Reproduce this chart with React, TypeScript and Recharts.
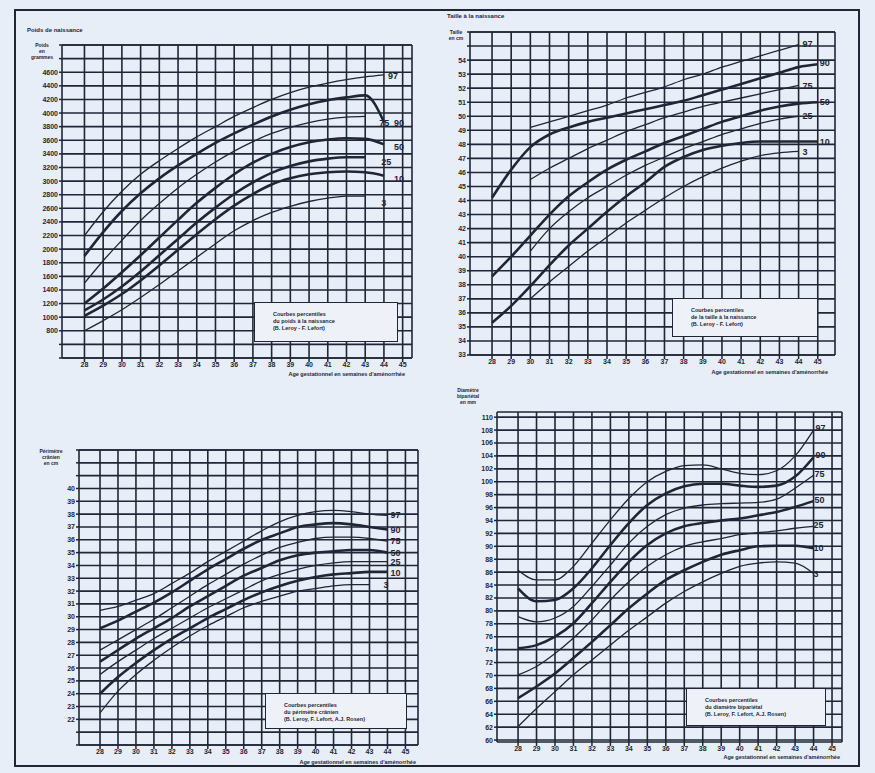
import { CartesianGrid, Line, LineChart, XAxis, YAxis } from "recharts";

// semaines d'aménorrhée
const weeks = [28, 29, 30, 31, 32, 33, 34, 35, 36, 37, 38, 39, 40, 41, 42, 43, 44, 45];

// Poids de naissance (g)
const poids97 = [2200, 2550, 2850, 3100, 3300, 3480, 3650, 3800, 3950, 4080, 4200, 4300, 4380, 4440, 4490, 4530, 4560, null];
const poids90 = [1900, 2250, 2560, 2820, 3040, 3230, 3400, 3560, 3700, 3830, 3950, 4050, 4130, 4190, 4230, 4260, 3870, null];
const poids75 = [1500, 1830, 2130, 2420, 2670, 2900, 3100, 3280, 3440, 3580, 3700, 3790, 3860, 3910, 3940, 3950, null, null];
const poids50 = [1200, 1420, 1660, 1910, 2170, 2430, 2680, 2900, 3100, 3270, 3400, 3500, 3570, 3610, 3630, 3620, 3540, null];
const poids25 = [1100, 1260, 1450, 1670, 1910, 2150, 2390, 2610, 2810, 2980, 3120, 3220, 3290, 3330, 3350, 3350, null, null];
const poids10 = [1020, 1170, 1340, 1540, 1760, 1990, 2220, 2440, 2640, 2810, 2950, 3040, 3100, 3130, 3140, 3130, 3080, null];
const poids3 = [800, 950, 1110, 1290, 1480, 1680, 1880, 2080, 2270, 2420, 2540, 2630, 2700, 2750, 2780, 2780, null, null];
const poidsTicks = [800, 1000, 1200, 1400, 1600, 1800, 2000, 2200, 2400, 2600, 2800, 3000, 3200, 3400, 3600, 3800, 4000, 4200, 4400, 4600];

// Taille à la naissance (cm)
const taille97 = [null, null, 49.2, 49.6, 50.0, 50.4, 50.8, 51.3, 51.7, 52.1, 52.6, 53.0, 53.5, 53.9, 54.3, 54.7, 55.1, null];
const taille90 = [44.2, 46.2, 47.8, 48.7, 49.2, 49.6, 49.9, 50.2, 50.5, 50.8, 51.1, 51.5, 51.9, 52.3, 52.7, 53.1, 53.5, 53.7];
const taille75 = [null, null, 45.5, 46.3, 47.0, 47.7, 48.3, 48.9, 49.4, 49.9, 50.3, 50.7, 51.0, 51.3, 51.6, 51.9, 52.2, null];
const taille50 = [38.6, 40.0, 41.5, 43.0, 44.3, 45.3, 46.2, 46.9, 47.5, 48.1, 48.6, 49.1, 49.6, 50.0, 50.4, 50.7, 50.9, 51.0];
const taille25 = [null, null, 40.4, 42.0, 43.2, 44.2, 45.0, 45.8, 46.5, 47.1, 47.7, 48.2, 48.7, 49.1, 49.5, 49.8, 50.0, null];
const taille10 = [35.3, 36.5, 37.9, 39.4, 40.8, 42.0, 43.2, 44.3, 45.3, 46.4, 47.1, 47.6, 47.9, 48.1, 48.2, 48.2, 48.2, 48.2];
const taille3 = [null, null, 37.0, 38.2, 39.3, 40.4, 41.4, 42.4, 43.3, 44.2, 45.0, 45.7, 46.3, 46.8, 47.2, 47.4, 47.5, null];
const tailleTicks = [33, 34, 35, 36, 37, 38, 39, 40, 41, 42, 43, 44, 45, 46, 47, 48, 49, 50, 51, 52, 53, 54];

// Périmètre crânien (cm)
const pc97 = [30.5, 30.8, 31.3, 31.8, 32.6, 33.4, 34.3, 35.1, 35.9, 36.7, 37.4, 37.9, 38.2, 38.3, 38.2, 38.0, 37.9, null];
const pc90 = [29.1, 29.7, 30.4, 31.1, 31.9, 32.8, 33.7, 34.5, 35.3, 36.0, 36.5, 37.0, 37.2, 37.3, 37.2, 37.0, 36.8, null];
const pc75 = [27.4, 28.2, 29.0, 29.8, 30.7, 31.6, 32.5, 33.3, 34.1, 34.8, 35.4, 35.8, 36.1, 36.2, 36.2, 36.1, 35.9, null];
const pc50 = [26.5, 27.4, 28.3, 29.1, 29.9, 30.8, 31.6, 32.4, 33.2, 33.8, 34.4, 34.8, 35.0, 35.1, 35.2, 35.2, 35.0, null];
const pc25 = [25.5, 26.5, 27.4, 28.3, 29.1, 29.9, 30.7, 31.4, 32.1, 32.8, 33.3, 33.7, 34.0, 34.2, 34.3, 34.3, 34.3, null];
const pc10 = [24.0, 25.3, 26.4, 27.4, 28.3, 29.1, 29.9, 30.6, 31.3, 31.9, 32.4, 32.8, 33.1, 33.3, 33.4, 33.5, 33.5, null];
const pc3 = [22.5, 24.2, 25.5, 26.6, 27.6, 28.5, 29.3, 30.0, 30.7, 31.2, 31.6, 32.0, 32.2, 32.4, 32.5, 32.5, null, null];
const pcTicks = [22, 23, 24, 25, 26, 27, 28, 29, 30, 31, 32, 33, 34, 35, 36, 37, 38, 39, 40];

// Diamètre bipariétal (mm)
const bip97 = [86.3, 84.8, 84.8, 86.9, 90.5, 94.1, 97.4, 100.0, 101.6, 102.5, 102.6, 102.0, 101.3, 101.1, 101.7, 104.0, 108.0, null];
const bip90 = [83.5, 81.5, 81.7, 83.5, 86.6, 90.2, 93.6, 96.4, 98.2, 99.3, 99.7, 99.7, 99.4, 99.2, 99.4, 100.8, 103.8, null];
const bip75 = [79.1, 78.3, 78.9, 80.7, 83.8, 87.1, 90.5, 93.1, 94.9, 95.9, 96.4, 96.6, 96.7, 96.8, 97.3, 99.0, 101.0, null];
const bip50 = [74.2, 74.7, 76.0, 78.1, 81.2, 84.5, 87.6, 90.2, 92.0, 93.1, 93.6, 94.0, 94.3, 94.8, 95.3, 96.1, 97.0, null];
const bip25 = [70.1, 71.4, 73.4, 75.8, 78.6, 81.7, 84.5, 86.9, 88.7, 90.0, 90.7, 91.2, 91.8, 92.1, 92.4, 92.8, 93.1, null];
const bip10 = [66.5, 68.3, 70.3, 72.7, 75.2, 77.8, 80.4, 82.7, 84.8, 86.3, 87.6, 88.7, 89.4, 90.0, 90.1, 90.1, 89.7, null];
const bip3 = [62.1, 64.9, 67.5, 70.1, 72.4, 74.7, 77.0, 79.1, 81.2, 83.0, 84.5, 85.8, 86.9, 87.4, 87.6, 87.4, 85.8, null];
const bipTicks = [60, 62, 64, 66, 68, 70, 72, 74, 76, 78, 80, 82, 84, 86, 88, 90, 92, 94, 96, 98, 100, 102, 104, 106, 108, 110];

const INK = "#1f2636";
const BG = "#e8eef7";
const FONT = "'Liberation Sans', Arial, sans-serif";
const X_TITLE = "Age gestationnel en semaines d'aménorrhée";

type Series = (number | null)[];

interface Curve {
  name: string;
  values: Series;
  thick: boolean;
  dx: number;
  dy: number;
}

const range = (from: number, to: number, step: number) => {
  const out: number[] = [];
  for (let v = from; v <= to + 1e-6; v += step) out.push(Math.round(v * 100) / 100);
  return out;
};

const lastIndex = (values: Series) => {
  let last = -1;
  values.forEach((v, i) => {
    if (v !== null) last = i;
  });
  return last;
};

interface PanelProps {
  left: number;
  top: number;
  width: number;
  height: number;
  margin: { top: number; right: number; bottom: number; left: number };
  yWidth: number;
  xHeight: number;
  xDomain: [number, number];
  yDomain: [number, number];
  yGrid: number[];
  yLabels: number[];
  curves: Curve[];
}

const Panel = (p: PanelProps) => {
  const rows = weeks.map((week, i) => {
    const row: Record<string, number | null> = { week };
    p.curves.forEach((c) => {
      row["p" + c.name] = c.values[i];
    });
    return row;
  });
  const labelled = new Set(p.yLabels);
  const xGrid = [p.xDomain[0], ...weeks, p.xDomain[1]];
  const tickStyle = { fontSize: 7, fontWeight: 700, fill: INK, fontFamily: FONT };

  return (
    <div style={{ position: "absolute", left: p.left, top: p.top }}>
      <LineChart width={p.width} height={p.height} data={rows} margin={p.margin}>
        <CartesianGrid
          stroke={INK}
          strokeWidth={1.6}
          horizontalValues={[p.yDomain[0], ...p.yGrid, p.yDomain[1]]}
          verticalValues={xGrid}
        />
        <XAxis
          dataKey="week"
          type="number"
          domain={p.xDomain}
          allowDataOverflow
          ticks={weeks}
          interval={0}
          height={p.xHeight}
          tick={tickStyle}
          tickSize={4}
          tickMargin={0}
          tickLine={{ stroke: INK, strokeWidth: 1.5 }}
          axisLine={false}
        />
        <YAxis
          type="number"
          domain={p.yDomain}
          allowDataOverflow
          ticks={p.yGrid}
          interval={0}
          width={p.yWidth}
          tick={tickStyle}
          tickSize={3}
          tickMargin={1}
          tickLine={{ stroke: INK, strokeWidth: 1.5 }}
          axisLine={false}
          tickFormatter={(v: number) => (labelled.has(v) ? String(v) : "")}
        />
        {p.curves.map((c) => {
          const last = lastIndex(c.values);
          return (
            <Line
              key={c.name}
              dataKey={"p" + c.name}
              type="monotone"
              stroke={INK}
              strokeWidth={c.thick ? 2.6 : 1.3}
              activeDot={false}
              isAnimationActive={false}
              dot={(d: any) =>
                d.index === last ? (
                  <text
                    key={`lbl-${c.name}`}
                    x={d.cx + c.dx}
                    y={d.cy + c.dy}
                    fontSize={9}
                    fontWeight={700}
                    fontFamily={FONT}
                    fill={INK}
                  >
                    {c.name}
                  </text>
                ) : (
                  <g key={`dot-${c.name}-${d.index}`} />
                )
              }
            />
          );
        })}
      </LineChart>
    </div>
  );
};

const Note = ({ x, y, w, h, lines }: { x: number; y: number; w: number; h: number; lines: string[] }) => (
  <div
    style={{
      position: "absolute",
      left: x,
      top: y,
      width: w,
      height: h,
      boxSizing: "border-box",
      background: "#eef2f8",
      border: `1.5px solid ${INK}`,
      padding: "8px 0 0 18px",
      fontFamily: FONT,
      fontSize: 5.5,
      fontWeight: 700,
      lineHeight: "7px",
      color: INK,
    }}
  >
    {lines.map((l) => (
      <div key={l}>{l}</div>
    ))}
  </div>
);

const Txt = ({ x, y, w, align, size, lines }: { x: number; y: number; w: number; align: "left" | "right" | "center"; size: number; lines: string[] }) => (
  <div
    style={{
      position: "absolute",
      left: x,
      top: y,
      width: w,
      textAlign: align,
      fontFamily: FONT,
      fontSize: size,
      fontWeight: 700,
      lineHeight: `${size + 1}px`,
      color: INK,
      whiteSpace: "nowrap",
    }}
  >
    {lines.map((l) => (
      <div key={l}>{l}</div>
    ))}
  </div>
);

const App = () => {
  return (
    <div style={{ position: "absolute", left: 0, top: 0, width: 875, height: 773, background: BG, overflow: "hidden" }}>
      <div
        style={{
          position: "absolute",
          left: 14,
          top: 9,
          width: 846,
          height: 758,
          boxSizing: "border-box",
          border: `2px solid ${INK}`,
        }}
      />

      <Panel
        left={0}
        top={0}
        width={430}
        height={380}
        margin={{ top: 45, right: 18, bottom: 0, left: 32 }}
        yWidth={30}
        xHeight={22}
        xDomain={[26.8, 45.5]}
        yDomain={[400, 5000]}
        yGrid={range(400, 5000, 200)}
        yLabels={poidsTicks}
        curves={[
          { name: "97", values: poids97, thick: false, dx: 4, dy: 4 },
          { name: "90", values: poids90, thick: true, dx: 10, dy: 4 },
          { name: "75", values: poids75, thick: false, dx: 14, dy: 10 },
          { name: "50", values: poids50, thick: true, dx: 10, dy: 6 },
          { name: "25", values: poids25, thick: true, dx: 16, dy: 8 },
          { name: "10", values: poids10, thick: true, dx: 10, dy: 6 },
          { name: "3", values: poids3, thick: false, dx: 16, dy: 10 },
        ]}
      />
      <Panel
        left={430}
        top={0}
        width={430}
        height={380}
        margin={{ top: 32, right: 25, bottom: 3, left: 15 }}
        yWidth={25}
        xHeight={22}
        xDomain={[26.85, 45.9]}
        yDomain={[33, 56]}
        yGrid={range(33, 56, 1)}
        yLabels={tailleTicks}
        curves={[
          { name: "97", values: taille97, thick: false, dx: 4, dy: 2 },
          { name: "90", values: taille90, thick: true, dx: 2, dy: 2 },
          { name: "75", values: taille75, thick: false, dx: 4, dy: 4 },
          { name: "50", values: taille50, thick: true, dx: 2, dy: 3 },
          { name: "25", values: taille25, thick: false, dx: 4, dy: 3 },
          { name: "10", values: taille10, thick: true, dx: 2, dy: 3 },
          { name: "3", values: taille3, thick: false, dx: 4, dy: 4 },
        ]}
      />
      <Panel
        left={0}
        top={380}
        width={430}
        height={393}
        margin={{ top: 70, right: 12, bottom: 8, left: 49 }}
        yWidth={30}
        xHeight={20}
        xDomain={[26.83, 45.7]}
        yDomain={[20, 43]}
        yGrid={range(20, 43, 1)}
        yLabels={pcTicks}
        curves={[
          { name: "97", values: pc97, thick: false, dx: 3, dy: 3 },
          { name: "90", values: pc90, thick: true, dx: 3, dy: 3 },
          { name: "75", values: pc75, thick: false, dx: 3, dy: 3 },
          { name: "50", values: pc50, thick: true, dx: 3, dy: 3 },
          { name: "25", values: pc25, thick: false, dx: 3, dy: 3 },
          { name: "10", values: pc10, thick: true, dx: 3, dy: 4 },
          { name: "3", values: pc3, thick: false, dx: 14, dy: 3 },
        ]}
      />
      <Panel
        left={430}
        top={380}
        width={445}
        height={393}
        margin={{ top: 32, right: 33, bottom: 11, left: 37 }}
        yWidth={30}
        xHeight={20}
        xDomain={[26.86, 45.54]}
        yDomain={[59.7, 110.8]}
        yGrid={range(60, 110, 2)}
        yLabels={bipTicks}
        curves={[
          { name: "97", values: bip97, thick: false, dx: 2, dy: 1 },
          { name: "90", values: bip90, thick: true, dx: 2, dy: 1 },
          { name: "75", values: bip75, thick: false, dx: 1, dy: 2 },
          { name: "50", values: bip50, thick: true, dx: 1, dy: 2 },
          { name: "25", values: bip25, thick: false, dx: 0, dy: 2 },
          { name: "10", values: bip10, thick: true, dx: 0, dy: 3 },
          { name: "3", values: bip3, thick: false, dx: 0, dy: 4 },
        ]}
      />

      {/* titres et libellés */}
      <Txt x={27} y={27} w={120} align="left" size={6} lines={["Poids de naissance"]} />
      <Txt x={20} y={42} w={44} align="center" size={5} lines={["Poids", "en", "grammes"]} />
      <Txt x={180} y={371} w={225} align="right" size={5.5} lines={[X_TITLE]} />

      <Txt x={447} y={13} w={140} align="left" size={6} lines={["Taille à la naissance"]} />
      <Txt x={440} y={29} w={32} align="center" size={5} lines={["Taille", "en cm"]} />
      <Txt x={600} y={369} w={228} align="right" size={5.5} lines={[X_TITLE]} />

      <Txt x={30} y={448} w={42} align="center" size={5} lines={["Périmètre", "crânien", "en cm"]} />
      <Txt x={190} y={759} w={226} align="right" size={5.5} lines={[X_TITLE]} />

      <Txt x={446} y={387} w={44} align="center" size={5} lines={["Diamètre", "bipariétal", "en mm"]} />
      <Txt x={612} y={754} w={228} align="right" size={5.5} lines={[X_TITLE]} />

      <Note x={254} y={302} w={144} h={40} lines={["Courbes percentiles", "du poids à la naissance", "(B. Leroy - F. Lefort)"]} />
      <Note x={672} y={298} w={146} h={39} lines={["Courbes percentiles", "de la taille à la naissance", "(B. Leroy - F. Lefort)"]} />
      <Note x={265} y={693} w={142} h={36} lines={["Courbes percentiles", "du périmètre crânien", "(B. Leroy, F. Lefort, A.J. Rosen)"]} />
      <Note x={686} y={688} w={140} h={38} lines={["Courbes percentiles", "du diamètre bipariétal", "(B. Leroy, F. Lefort, A.J. Rosen)"]} />
    </div>
  );
};

export default App;
